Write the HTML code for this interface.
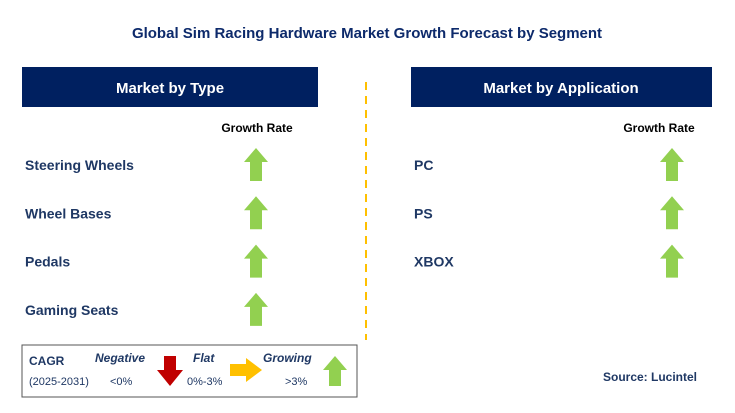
<!DOCTYPE html>
<html><head><meta charset="utf-8"><style>
body{margin:0;background:#fff;font-family:"Liberation Sans",sans-serif;}
svg text{font-family:"Liberation Sans",sans-serif;}
</style></head><body>
<svg width="735" height="408" viewBox="0 0 735 408">
<text x="367" y="38" text-anchor="middle" font-size="15" font-weight="bold" fill="#0d2a6b">Global Sim Racing Hardware Market Growth Forecast by Segment</text>
<rect x="22" y="67" width="296" height="40" fill="#002060"/>
<text x="170" y="93" text-anchor="middle" font-size="15" font-weight="bold" fill="#fff">Market by Type</text>
<rect x="411" y="67" width="301" height="40" fill="#002060"/>
<text x="561" y="93" text-anchor="middle" font-size="15" font-weight="bold" fill="#fff">Market by Application</text>
<line x1="366" y1="82" x2="366" y2="340" stroke="#ffc000" stroke-width="2" stroke-dasharray="8,6"/>
<text x="257" y="132" text-anchor="middle" font-size="12" font-weight="bold" fill="#000">Growth Rate</text>
<text x="659" y="132" text-anchor="middle" font-size="12" font-weight="bold" fill="#000">Growth Rate</text>
<g id="rows"></g>
<rect x="22" y="345" width="335" height="52" fill="#fff" stroke="#555" stroke-width="1"/>
<text x="29" y="365" font-size="12" font-weight="bold" fill="#1f3864">CAGR</text>
<text x="29" y="385" font-size="11" fill="#1f3864">(2025-2031)</text>
<text x="95" y="362" font-size="12" font-weight="bold" font-style="italic" fill="#1f3864">Negative</text>
<text x="110" y="385" font-size="11" fill="#1f3864">&lt;0%</text>
<polygon points="164,356 176,356 176,370 183,370 170,386 157,370 164,370" fill="#c00000"/>
<text x="193" y="362" font-size="12" font-weight="bold" font-style="italic" fill="#1f3864">Flat</text>
<text x="187" y="385" font-size="11" fill="#1f3864">0%-3%</text>
<polygon points="230,364 246,364 246,358 262,370 246,382 246,376 230,376" fill="#ffc000"/>
<text x="263" y="362" font-size="12" font-weight="bold" font-style="italic" fill="#1f3864">Growing</text>
<text x="285" y="385" font-size="11" fill="#1f3864">&gt;3%</text>
<polygon points="335,356 347,370 341,370 341,386 329,386 329,370 323,370" fill="#92d050"/>
<text x="697" y="381" text-anchor="end" font-size="12" font-weight="bold" fill="#1f3864">Source: Lucintel</text>
</svg>
<script>
const typeLabels=["Steering Wheels","Wheel Bases","Pedals","Gaming Seats"];
const appLabels=["PC","PS","XBOX"];
const g=document.getElementById('rows');
const NS="http://www.w3.org/2000/svg";
function row(label,lx,ax,y,name){
 const t=document.createElementNS(NS,'text');
 
 
 t.setAttribute('x',lx);t.setAttribute('y',y+5);t.setAttribute('font-size','14');t.setAttribute('font-weight','bold');t.setAttribute('fill','#1f3864');
 t.textContent=label;g.appendChild(t);
 const p=document.createElementNS(NS,'polygon');
 
 
 p.setAttribute('points',`${ax},${y-17} ${ax+12},${y-3} ${ax+6},${y-3} ${ax+6},${y+16} ${ax-6},${y+16} ${ax-6},${y-3} ${ax-12},${y-3}`);
 p.setAttribute('fill','#92d050');g.appendChild(p);
}
typeLabels.forEach((l,i)=>row(l,25,256,165+i*48.3,'type-'+i));
appLabels.forEach((l,i)=>row(l,414,672,165+i*48.3,'app-'+i));
</script>
</body></html>
